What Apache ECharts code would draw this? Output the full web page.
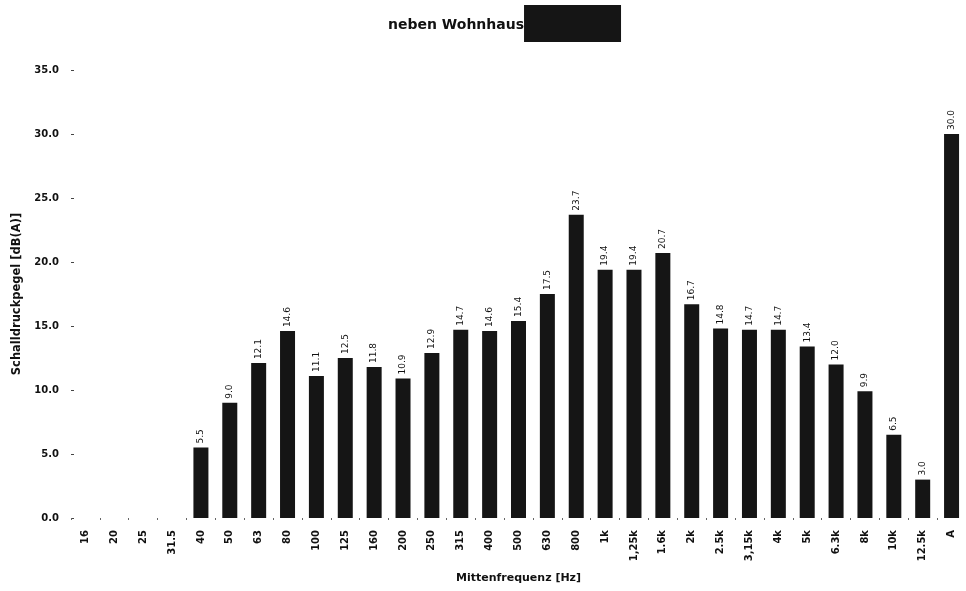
<!DOCTYPE html>
<html>
<head>
<meta charset="utf-8">
<script src="https://cdn.jsdelivr.net/npm/echarts@6/dist/echarts.min.js"></script>
<style>html,body{margin:0;padding:0;background:#fff}#c{width:966px;height:591px}</style>
</head>
<body>
<div id="c"></div>
<script>
const categories = ['16','20','25','31.5','40','50','63','80','100','125','160','200','250','315','400','500','630','800','1k','1,25k','1.6k','2k','2.5k','3,15k','4k','5k','6.3k','8k','10k','12.5k','A'];
const levels = [null,null,null,null,5.5,9.0,12.1,14.6,11.1,12.5,11.8,10.9,12.9,14.7,14.6,15.4,17.5,23.7,19.4,19.4,20.7,16.7,14.8,14.7,14.7,13.4,12.0,9.9,6.5,3.0,30.0];
const yTicks = [0,5,10,15,20,25,30,35];
const titleText = 'neben Wohnhaus';
const xName = 'Mittenfrequenz [Hz]';
const yName = 'Schalldruckpegel [dB(A)]';

const chart = echarts.init(document.getElementById('c'), null, {renderer:'canvas'});
const font = 'DejaVu Sans, Verdana, sans-serif';
chart.setOption({
  animation:false,
  textStyle:{fontFamily:font},
  title:{
    text:'{t|' + titleText + '}{r|}',
    left:388, top:5, padding:0,
    textStyle:{
      rich:{
        t:{fontSize:14, fontWeight:'bold', color:'#111', fontFamily:font, padding:[4,0,0,0]},
        r:{width:97, height:37, backgroundColor:'#151515'}
      }
    }
  },
  grid:{left:71, right:0, top:70, bottom:73},
  xAxis:{
    type:'category',
    data:categories,
    name:xName,
    nameLocation:'middle',
    nameGap:55,
    nameTextStyle:{fontSize:11, fontWeight:'bold', color:'#111', fontFamily:font},
    axisLine:{show:false},
    axisTick:{show:true, length:2, lineStyle:{color:'#666'}},
    axisLabel:{rotate:90, fontSize:10, fontWeight:'bold', color:'#111', margin:12, interval:0, fontFamily:font}
  },
  yAxis:{
    type:'value',
    min:yTicks[0], max:yTicks[yTicks.length-1], interval:5,
    name:yName,
    nameLocation:'middle',
    nameGap:40,
    nameTextStyle:{fontSize:11.5, fontWeight:'bold', color:'#111', fontFamily:font},
    axisLine:{show:false},
    axisTick:{show:true, length:3, inside:true, lineStyle:{color:'#444'}},
    splitLine:{show:false},
    axisLabel:{fontSize:10, fontWeight:'bold', color:'#111', margin:12, fontFamily:font, formatter:v=>v.toFixed(1)}
  },
  series:[{
    type:'bar',
    data:levels,
    barWidth:15,
    itemStyle:{color:'#151515'},
    label:{
      show:true, position:'top', rotate:90, align:'left', verticalAlign:'middle',
      distance:4, fontSize:9, color:'#111', fontFamily:font,
      formatter:p=>p.value==null?'':p.value.toFixed(1)
    }
  }]
});
</script>
</body>
</html>
